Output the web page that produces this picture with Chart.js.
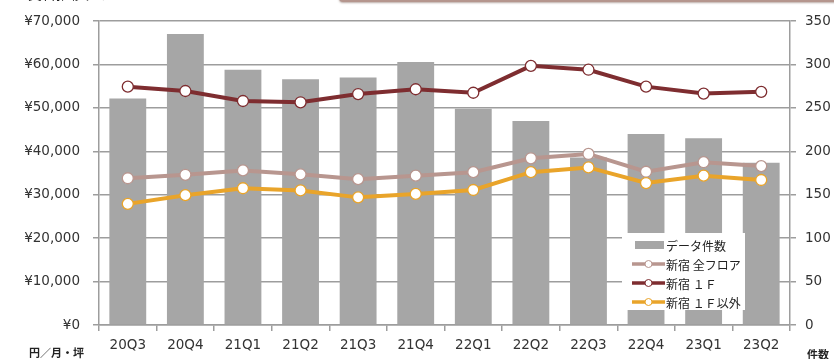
<!DOCTYPE html>
<html lang="ja">
<head>
<meta charset="utf-8">
<script src="https://cdn.jsdelivr.net/npm/chart.js@4.4.0/dist/chart.umd.min.js"></script>
<style>
  html, body { margin: 0; padding: 0; background: #fff; }
  #wrap { position: relative; width: 834px; height: 359px; overflow: hidden; }
  #chart { position: absolute; left: 0; top: 0; }
  .title { position: absolute; left: 14px; top: -17px; font: 14px "Noto Sans CJK JP", sans-serif; color: #111; white-space: nowrap; }
  .tab { position: absolute; left: 339px; top: -21px; width: 500px; height: 23px; background: #b5968e; border-radius: 4px; box-shadow: 0 1px 2px rgba(120,90,80,0.5); }
  .unit { position: absolute; font: bold 11px "Noto Sans CJK JP", sans-serif; color: #222; white-space: nowrap; }
</style>
</head>
<body>
<div id="wrap">
  <canvas id="chart" width="834" height="359"></canvas>
  <div class="title">■賃料推移グラフ</div>
  <div class="tab"></div>
  <div class="unit" style="left:29px; top:344px;">円／月・坪</div>
  <div class="unit" style="left:807px; top:346px;">件数</div>
</div>
<script>
// Quarters on the horizontal axis
const quarters = ['20Q3', '20Q4', '21Q1', '21Q2', '21Q3', '21Q4', '22Q1', '22Q2', '22Q3', '22Q4', '23Q1', '23Q2'];

// Number of records per quarter (right axis)
const recordCounts = [261, 335, 294, 283, 285, 303, 249, 235, 193, 220, 215, 187];

// Average rent, yen per month per tsubo (left axis)
const rentAllFloors = [33800, 34600, 35600, 34700, 33600, 34400, 35200, 38400, 39400, 35300, 37500, 36600];
const rentFirstFloor = [54900, 53900, 51600, 51300, 53200, 54300, 53500, 59700, 58800, 54900, 53300, 53700];
const rentUpperFloors = [27900, 29900, 31500, 31000, 29400, 30200, 31100, 35200, 36300, 32700, 34400, 33400];

// Axis tick settings
const yenMax = 70000, yenStep = 10000;
const countMax = 350, countStep = 50;

const seriesNames = ['データ件数', '新宿 全フロア', '新宿 １Ｆ', '新宿 １Ｆ以外'];

const tickFont = { family: 'DejaVu Sans', size: 13.5 };
const gridColor = '#9d9d9d';

function lineSet(label, data, color, order) {
  return {
    type: 'line', label, data, yAxisID: 'y', order,
    borderColor: color, borderWidth: 4, tension: 0,
    pointRadius: 5.5, pointBackgroundColor: '#fff',
    pointBorderColor: color, pointBorderWidth: 1.3
  };
}

// Legend box drawn inside the plot, over the bars
const insideLegend = {
  id: 'insideLegend',
  afterDatasetsDraw(chart) {
    const ctx = chart.ctx;
    const x0 = 622, y0 = 233, w = 123, h = 77;
    ctx.save();
    ctx.fillStyle = '#fff';
    ctx.fillRect(x0, y0, w, h);
    ctx.font = '12px "Noto Sans CJK JP", sans-serif';
    ctx.textBaseline = 'middle';
    const rowY = [245, 264, 283, 302];
    chart.data.datasets.forEach((ds, i) => {
      const y = rowY[i];
      if (ds.type === 'bar') {
        ctx.fillStyle = ds.backgroundColor;
        ctx.fillRect(635, y - 4, 29, 8);
      } else {
        ctx.strokeStyle = ds.borderColor;
        ctx.lineWidth = 3.5;
        ctx.beginPath();
        ctx.moveTo(632, y);
        ctx.lineTo(665, y);
        ctx.stroke();
        ctx.beginPath();
        ctx.arc(648.5, y, 3.5, 0, Math.PI * 2);
        ctx.fillStyle = '#fff';
        ctx.fill();
        ctx.lineWidth = 1;
        ctx.stroke();
      }
      ctx.fillStyle = '#222';
      ctx.fillText(ds.label, 666, y + 1);
    });
    ctx.restore();
  }
};

new Chart(document.getElementById('chart'), {
  data: {
    labels: quarters,
    datasets: [
      {
        type: 'bar', label: seriesNames[0], data: recordCounts, yAxisID: 'y1', order: 10,
        backgroundColor: '#a6a6a6', categoryPercentage: 1, barPercentage: 0.64
      },
      lineSet(seriesNames[1], rentAllFloors, '#b8968f', 3),
      lineSet(seriesNames[2], rentFirstFloor, '#7e2d30', 1),
      lineSet(seriesNames[3], rentUpperFloors, '#e9a42a', 2)
    ]
  },
  options: {
    responsive: false,
    animation: false,
    layout: { padding: { top: 20, left: 0, right: 0, bottom: 0 } },
    plugins: { legend: { display: false }, tooltip: { enabled: false } },
    scales: {
      x: {
        offset: true,
        grid: { offset: true, drawOnChartArea: false, color: gridColor, lineWidth: 1.5, tickLength: 6 },
        border: { color: gridColor, width: 1.5 },
        ticks: { color: '#333', font: tickFont, padding: 6, maxRotation: 0 },
        afterFit(s) { s.height = 34; }
      },
      y: {
        position: 'left', min: 0, max: yenMax,
        grid: { color: gridColor, lineWidth: 1.5, tickLength: 6 },
        border: { color: gridColor, width: 1.5 },
        ticks: {
          stepSize: yenStep, color: '#333', font: tickFont, padding: 13,
          callback: v => '¥' + v.toLocaleString('en-US')
        },
        afterFit(s) { s.width = 99; }
      },
      y1: {
        position: 'right', min: 0, max: countMax,
        grid: { drawOnChartArea: false, color: gridColor, lineWidth: 1.5, tickLength: 6 },
        border: { color: gridColor, width: 1.5 },
        ticks: { stepSize: countStep, color: '#333', font: tickFont, padding: 9 },
        afterFit(s) { s.width = 44; }
      }
    }
  },
  plugins: [insideLegend]
});
</script>
</body>
</html>
